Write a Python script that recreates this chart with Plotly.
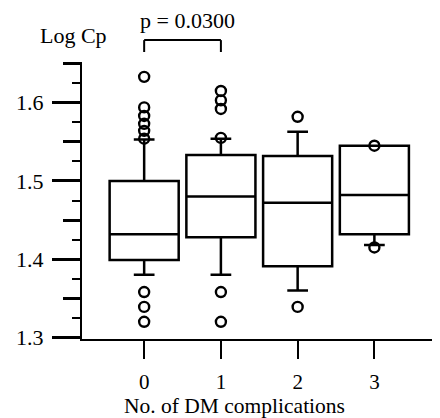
import plotly.graph_objects as go

# ---- data ----
categories = [0, 1, 2, 3]
tick_labels = ["0", "1", "2", "3"]
q1 = [1.399, 1.428, 1.391, 1.432]
median = [1.432, 1.480, 1.472, 1.482]
q3 = [1.500, 1.533, 1.532, 1.545]
lowerfence = [1.380, 1.380, 1.360, 1.418]
upperfence = [1.553, 1.554, 1.563, 1.545]

outliers = {
    0: [1.633, 1.594, 1.583, 1.573, 1.564, 1.554, 1.358, 1.339, 1.320],
    1: [1.615, 1.603, 1.592, 1.555, 1.358, 1.320],
    2: [1.582, 1.339],
    3: [1.545, 1.415],
}

y_major = [1.3, 1.4, 1.5, 1.6]
y_major_text = ["1.3", "1.4", "1.5", "1.6"]
y_mid = [1.35, 1.45, 1.55, 1.65]
p_text = "p = 0.0300"
p_pair = [0, 1]

FONT = "Liberation Serif"
FS = 22

fig = go.Figure()

fig.add_trace(go.Box(
    x=categories, q1=q1, median=median, q3=q3,
    lowerfence=lowerfence, upperfence=upperfence,
    width=0.9, whiskerwidth=0.3, boxpoints=False,
    fillcolor="white", line=dict(color="black", width=2.5),
    showlegend=False, hoverinfo="skip",
))

ox, oy = [], []
for k, vals in outliers.items():
    ox += [k] * len(vals)
    oy += vals
fig.add_trace(go.Scatter(
    x=ox, y=oy, mode="markers",
    marker=dict(symbol="circle-open", size=10, color="black", line=dict(width=2.4)),
    showlegend=False, cliponaxis=False,
))

# invisible trace for secondary (mid-tick) axis
fig.add_trace(go.Scatter(x=[categories[0]], y=[y_major[0]], yaxis="y2",
                         mode="markers", marker=dict(opacity=0), showlegend=False,
                         hoverinfo="skip"))

yr = [1.298, 1.652]
fig.update_layout(
    width=432, height=410,
    margin=dict(l=74, r=5, t=54, b=79),
    paper_bgcolor="white", plot_bgcolor="white",
    font=dict(family=FONT, size=FS, color="black"),
    xaxis=dict(
        range=[-0.81, 3.79], tickvals=categories, ticktext=tick_labels,
        ticks="outside", ticklen=18, tickwidth=2, tickcolor="black",
        showline=True, linecolor="black", linewidth=2,
        showgrid=False, zeroline=False, ticklabelstandoff=5,
        tickfont=dict(size=21),
    ),
    yaxis=dict(
        range=yr, tickvals=y_major, ticktext=y_major_text,
        ticks="outside", ticklen=28, tickwidth=2.5, tickcolor="black",
        showline=True, linecolor="black", linewidth=2,
        showgrid=False, zeroline=False, ticklabelstandoff=4,
        minor=dict(tick0=1.3, dtick=0.025, ticks="outside", ticklen=8,
                   tickwidth=2, tickcolor="black"),
    ),
    yaxis2=dict(
        range=yr, overlaying="y", side="left", tickvals=y_mid,
        ticktext=["" for _ in y_mid],
        ticks="outside", ticklen=18, tickwidth=2.5, tickcolor="black",
        showline=False, showgrid=False, zeroline=False,
    ),
)

# significance bracket
fig.add_shape(type="line", xref="x", yref="paper", x0=p_pair[0], x1=p_pair[0],
              y0=1.036, y1=1.079, line=dict(color="black", width=2))
fig.add_shape(type="line", xref="x", yref="paper", x0=p_pair[1], x1=p_pair[1],
              y0=1.036, y1=1.079, line=dict(color="black", width=2))
fig.add_shape(type="line", xref="x", yref="paper", x0=p_pair[0], x1=p_pair[1],
              y0=1.079, y1=1.079, line=dict(color="black", width=2))

fig.add_annotation(text=p_text, xref="paper", yref="paper", x=0.30, y=1.15,
                   xanchor="center", yanchor="middle",
                   showarrow=False, font=dict(family=FONT, size=FS))
fig.add_annotation(text="Log Cp", xref="paper", yref="paper", x=-0.025, y=1.097,
                   xanchor="center", yanchor="middle",
                   showarrow=False, font=dict(family=FONT, size=FS))
fig.add_annotation(text="No. of DM complications", xref="paper", yref="paper",
                   x=0.431, y=-0.241, xanchor="center", yanchor="middle",
                   showarrow=False, font=dict(family=FONT, size=21.5))

fig.write_html("out.html")
